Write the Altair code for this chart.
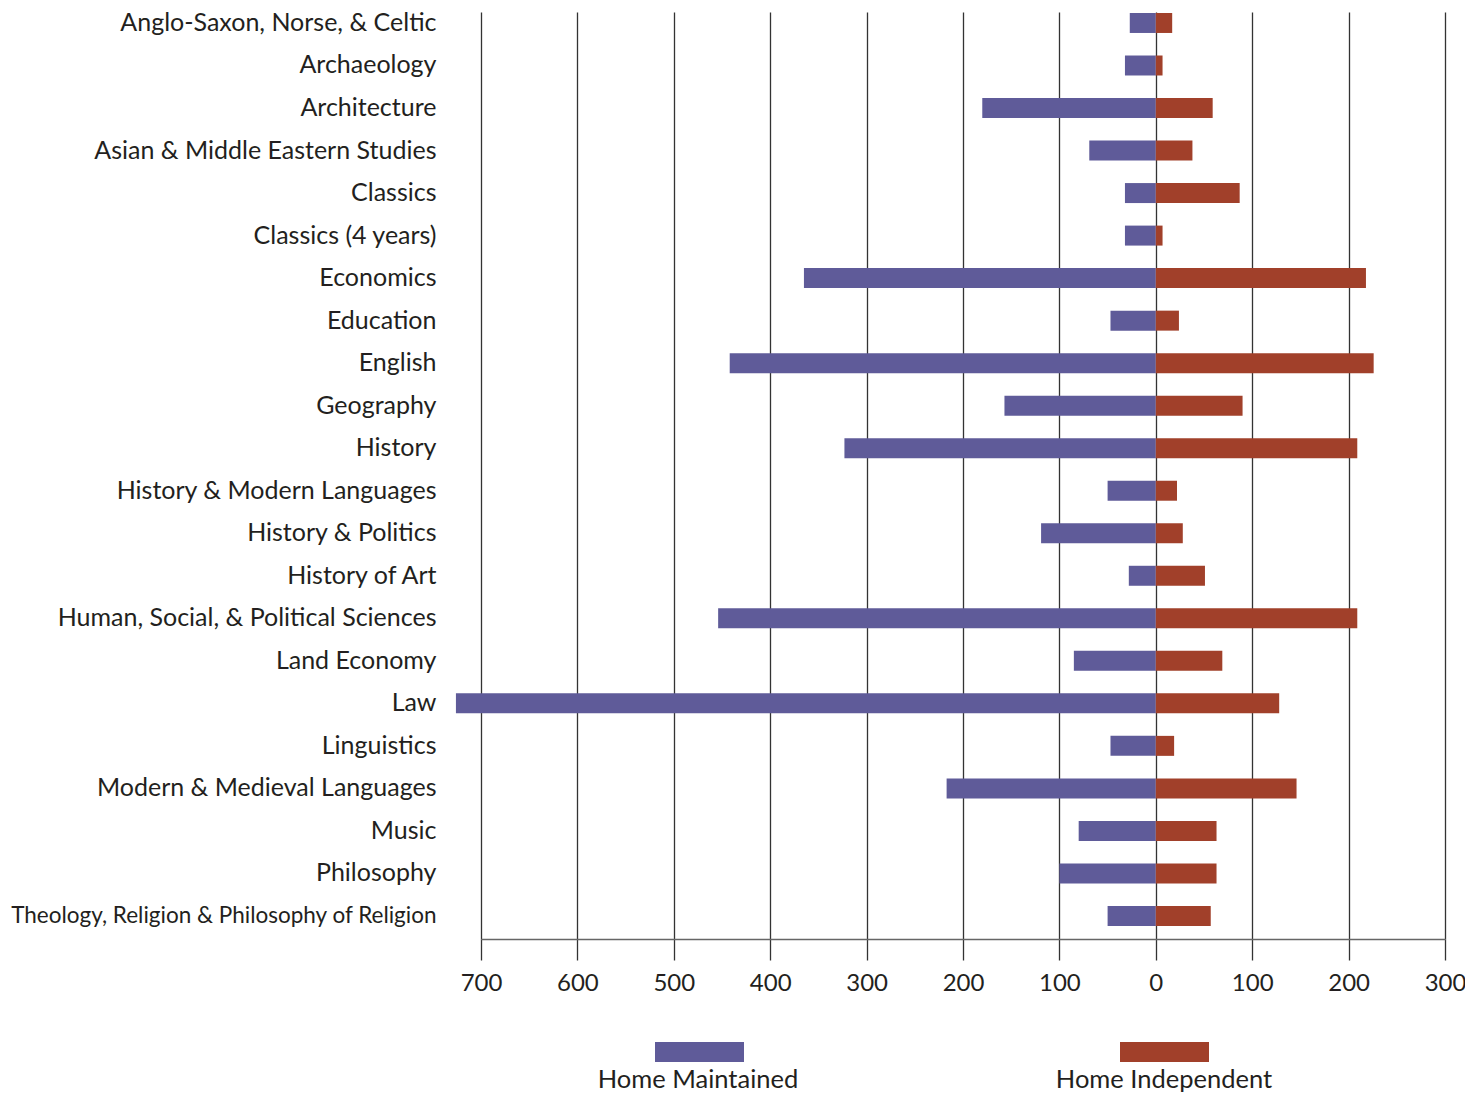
import altair as alt
import pandas as pd

categories = [
    "Anglo-Saxon, Norse, & Celtic", "Archaeology", "Architecture",
    "Asian & Middle Eastern Studies", "Classics", "Classics (4 years)",
    "Economics", "Education", "English", "Geography", "History",
    "History & Modern Languages", "History & Politics", "History of Art",
    "Human, Social, & Political Sciences", "Land Economy", "Law",
    "Linguistics", "Modern & Medieval Languages", "Music", "Philosophy",
    "Theology, Religion & Philosophy of Religion",
]
home_maintained = [27, 32, 180, 69, 32, 32, 365, 47, 442, 157, 323, 50, 119, 28,
                   454, 85, 726, 47, 217, 80, 100, 50]
home_independent = [17, 7, 59, 38, 87, 7, 218, 24, 226, 90, 209, 22, 28, 51,
                    209, 69, 128, 19, 146, 63, 63, 57]
series = ["Home Maintained", "Home Independent"]
colors = ["#5f5b99", "#a1402a"]
x_ticks = [-700, -600, -500, -400, -300, -200, -100, 0, 100, 200, 300]

rows = []
for c, m, i in zip(categories, home_maintained, home_independent):
    rows.append({"subject": c, "series": series[0], "value": -m})
    rows.append({"subject": c, "series": series[1], "value": i})
df = pd.DataFrame(rows)

FONT = "Lato"
TXT = "#231f20"
long_label = categories[-1]

bars = alt.Chart(df).mark_bar().encode(
    x=alt.X("value:Q", stack=None,
            scale=alt.Scale(domain=[-700, 300], nice=False, zero=False),
            axis=alt.Axis(values=x_ticks, title=None,
                          labelExpr="format(abs(datum.value), 'd')",
                          labelFlush=False, labelOverlap=False,
                          grid=True, gridColor="#333333", gridWidth=1.3,
                          tickColor="#333333", tickWidth=1.3, tickSize=21,
                          domainColor="#666666", domainWidth=1.6,
                          labelFontSize=24, labelFont=FONT, labelColor=TXT,
                          labelPadding=11)),
    y=alt.Y("subject:N", sort=categories, title=None,
            scale=alt.Scale(paddingInner=0.53, paddingOuter=0.165, align=0.07),
            axis=alt.Axis(domain=False, ticks=False, grid=False,
                          labelFont=FONT, labelColor=TXT, labelPadding=45,
                          labelLimit=600,
                          labelFontSize={"condition": {"test": f"datum.label == '{long_label}'", "value": 22.5}, "value": 25})),
    color=alt.Color("series:N", scale=alt.Scale(domain=series, range=colors), legend=None),
)

legend_layers = []
swatch_x = [(174, 263), (639, 728)]
label_x = [217, 683]
for s, col, (x1, x2), lx in zip(series, colors, swatch_x, label_x):
    sw = alt.Chart(pd.DataFrame({"series": [s]})).mark_rect(color=col).encode(
        x=alt.value(x1), x2=alt.value(x2), y=alt.value(1030), y2=alt.value(1050))
    tx = alt.Chart(pd.DataFrame({"series": [s]})).mark_text(
        font=FONT, fontSize=25.5, color=TXT, align="center", baseline="alphabetic"
    ).encode(x=alt.value(lx), y=alt.value(1076), text="series:N")
    legend_layers += [sw, tx]

chart = alt.layer(bars, *legend_layers).properties(
    width=964, height=927,
    autosize=alt.AutoSizeParams(type="none"),
    padding={"left": 473, "top": 4, "right": 20, "bottom": 154},
).configure_view(stroke=None)

chart.save("out.html", embed_options={"renderer": "svg", "actions": False})
